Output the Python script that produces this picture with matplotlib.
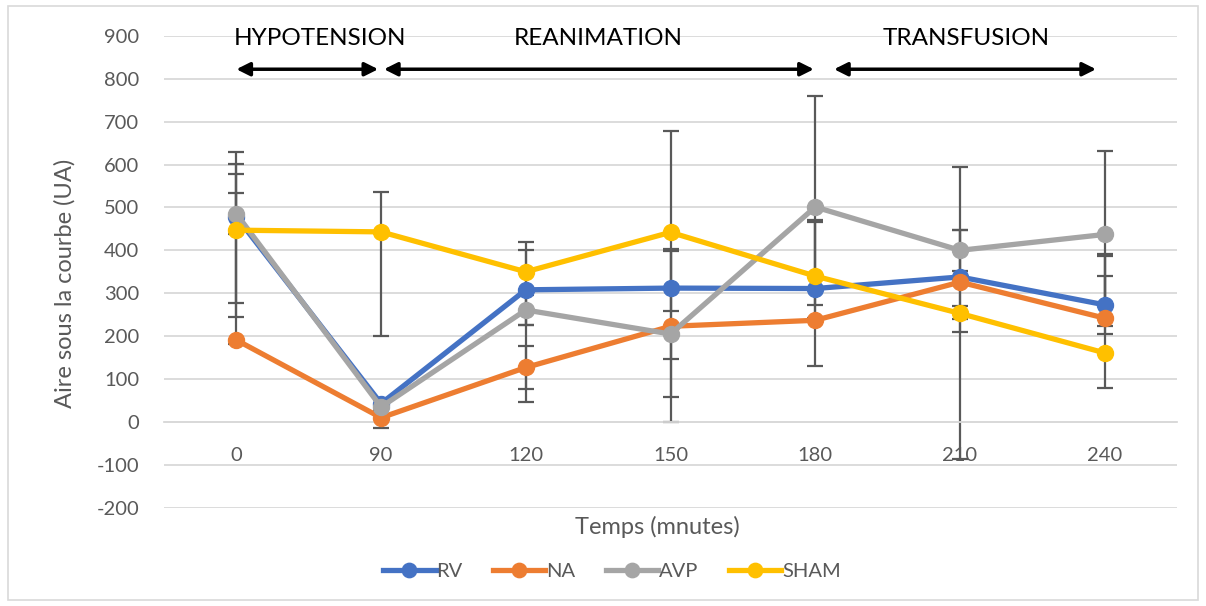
import matplotlib
matplotlib.use("Agg")
import matplotlib.pyplot as plt
from matplotlib.patches import Rectangle

plt.rcParams['font.family'] = ['Lato', 'DejaVu Sans']
plt.rcParams['axes.unicode_minus'] = False

# data
times = ['0', '90', '120', '150', '180', '210', '240']
rv = [478, 43, 308, 312, 311, 338, 273]
na = [191, 10, 127, 223, 237, 326, 242]
avp = [485, 35, 261, 205, 501, 400, 437]
sham = [447, 443, 350, 442, 340, 253, 161]

# error bars (upper / lower), as seen on the chart
rv_up = [123, 8, 92, 92, 154, 256, 67]
rv_lo = [201, 8, 81, 54, 38, 424, 68]
na_up = [342, 20, 51, 175, 107, 122, 150]
na_lo = [9, 25, 51, 164, 107, 117, 19]
avp_up = [143, 8, 34, 10, 258, 48, 195]
avp_lo = [240, 8, 34, 59, 258, 48, 195]
sham_up = [132, 94, 70, 237, 131, 18, 226]
sham_lo = [10, 242, 304, 443, 30, 13, 81]

# phases drawn over the chart (in category units)
phases = ['HYPOTENSION', 'REANIMATION', 'TRANSFUSION']
phase_start = [0.0, 1.02, 4.13]
phase_end = [0.98, 3.99, 5.94]
phase_text_x = [0.58, 2.5, 5.04]

series = [
    ('RV', rv, rv_up, rv_lo, '#4472C4'),
    ('NA', na, na_up, na_lo, '#ED7D31'),
    ('AVP', avp, avp_up, avp_lo, '#A5A5A5'),
    ('SHAM', sham, sham_up, sham_lo, '#FFC000'),
]

fig = plt.figure(figsize=(12.06, 6.06), dpi=100)
ax = fig.add_axes([0.136, 0.162, 0.840, 0.779])

x = list(range(len(times)))
for name, vals, up, lo, color in series:
    ax.errorbar(x, vals, yerr=[lo, up], fmt='none', ecolor='#595959',
                elinewidth=1.6, capsize=6, capthick=1.6, zorder=2)
for i, (name, vals, up, lo, color) in enumerate(series):
    ax.plot(x, vals, color=color, lw=3.8, marker='o', ms=11.5,
            label=name, zorder=3 + i)

ax.set_xlim(-0.5, len(times) - 0.5)
ax.set_ylim(-200, 900)
ax.set_yticks(range(-200, 901, 100))
ax.set_xticks(x)
ax.set_xticklabels(times)
ax.grid(axis='y', color='#d9d9d9', lw=1.3, zorder=0)
ax.set_axisbelow(True)
for s in ['top', 'right', 'left']:
    ax.spines[s].set_visible(False)
ax.spines['bottom'].set_position(('data', 0))
ax.spines['bottom'].set_color('#d9d9d9')
ax.spines['bottom'].set_linewidth(1.3)
ax.tick_params(axis='both', length=0, labelsize=14.5, labelcolor='#595959')
ax.tick_params(axis='x', pad=18)
ax.tick_params(axis='y', pad=18)

# phase annotations
for name, a, b, tx in zip(phases, phase_start, phase_end, phase_text_x):
    ax.annotate('', xy=(a, 822), xytext=(b, 822),
                arrowprops=dict(arrowstyle='<|-|>', color='black', lw=2.5,
                                mutation_scale=20, shrinkA=0, shrinkB=0))
    ax.text(tx, 893, name, ha='center', va='center',
            fontsize=17.5, color='black')

fig.text(65 / 1206, 1 - 283 / 606, 'Aire sous la courbe (UA)', rotation=90,
         ha='center', va='center', fontsize=17, color='#595959')
fig.text(657 / 1206, 1 - 527 / 606, 'Temps (mnutes)', ha='center',
         va='center', fontsize=17, color='#595959')

fig.legend(loc='center', bbox_to_anchor=(612 / 1206, 1 - 571 / 606), ncol=4,
           frameon=False, fontsize=14.5, labelcolor='#595959',
           handlelength=2.6, handletextpad=0.05, columnspacing=1.5,
           markerscale=0.9)

fig.patches.append(Rectangle((8 / 1206, 6 / 606), 1190 / 1206, 594 / 606,
                             transform=fig.transFigure, fill=False,
                             edgecolor='#d9d9d9', lw=1.2))

fig.savefig('out.png', dpi=100)
